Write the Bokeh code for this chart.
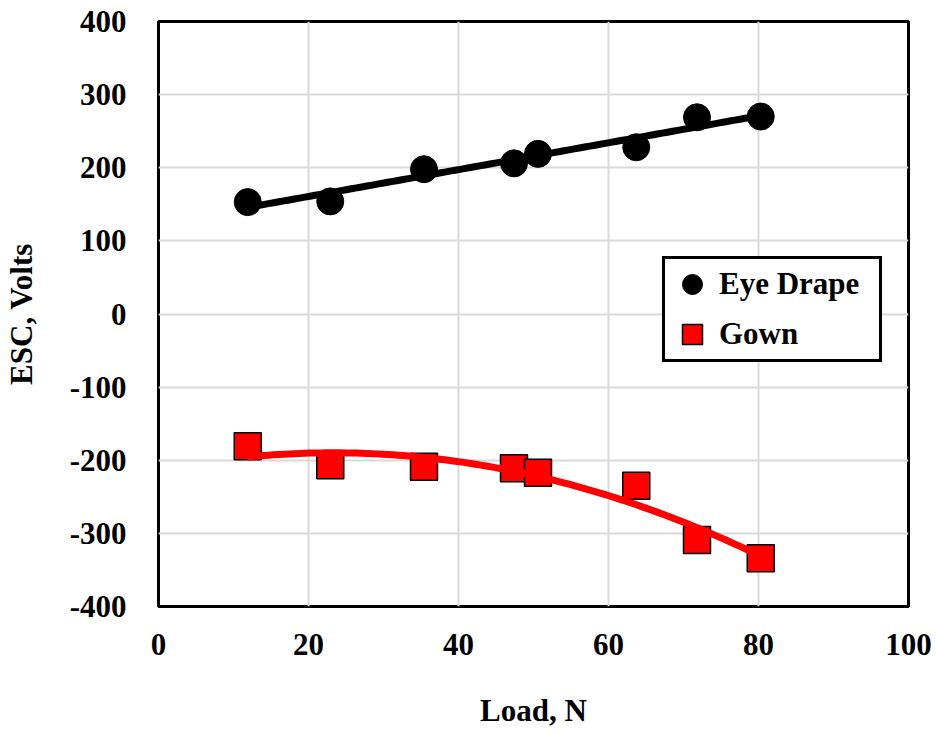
import numpy as np
from bokeh.plotting import figure
from bokeh.models import Range1d, Legend, LegendItem, FixedTicker, PrintfTickFormatter
from bokeh.embed import file_html
from bokeh.resources import INLINE

# Data
load_n = [11.9, 22.9, 35.4, 47.4, 50.6, 63.7, 71.8, 80.3]
eye_drape = [153, 154, 198, 206, 219, 228, 269, 270]
gown = [-181, -207, -209, -211, -217, -235, -309, -334]
x_ticks = [0, 20, 40, 60, 80, 100]
y_ticks = [-400, -300, -200, -100, 0, 100, 200, 300, 400]

FONT = "Liberation Serif"

p = figure(width=936, height=734, output_backend="svg", toolbar_location=None,
           x_range=Range1d(0, 100), y_range=Range1d(-400, 400),
           min_border_left=158, min_border_right=28, min_border_top=21, min_border_bottom=128)
p.background_fill_color = "white"
p.border_fill_color = "white"
p.outline_line_color = "black"
p.outline_line_width = 3
p.outline_line_alpha = 1

p.xgrid.grid_line_color = "#d9d9d9"
p.ygrid.grid_line_color = "#d9d9d9"
p.xgrid.grid_line_width = 2
p.ygrid.grid_line_width = 2
p.xaxis.ticker = FixedTicker(ticks=x_ticks)
p.yaxis.ticker = FixedTicker(ticks=y_ticks)
p.xaxis.formatter = PrintfTickFormatter(format="%d")
p.yaxis.formatter = PrintfTickFormatter(format="%d")

for ax in (p.xaxis, p.yaxis):
    ax.axis_line_color = None
    ax.major_tick_line_color = None
    ax.minor_tick_line_color = None
    ax.major_label_text_font = FONT
    ax.major_label_text_font_style = "bold"
    ax.major_label_text_font_size = "31px"
    ax.major_label_text_color = "black"
    ax.axis_label_text_font = FONT
    ax.axis_label_text_font_style = "bold"
    ax.axis_label_text_font_size = "31px"
    ax.axis_label_text_color = "black"

p.xaxis.axis_label = "Load, N"
p.yaxis.axis_label = "ESC, Volts"
p.xaxis.major_label_standoff = 21
p.xaxis.axis_label_standoff = 35
p.yaxis.major_label_standoff = 26
p.yaxis.axis_label_standoff = 28

r_eye = p.scatter(load_n, eye_drape, marker="circle", size=27, fill_color="black", line_color="black")
r_gown = p.scatter(load_n, gown, marker="square", size=27, fill_color="red", line_color="black", line_width=1.5)

# Trendlines (Excel-style fits to the data)
xs = np.linspace(min(load_n), max(load_n), 100)
c1 = np.polyfit(load_n, eye_drape, 1)
c2 = np.polyfit(load_n, gown, 2)
p.line(xs, np.polyval(c1, xs), line_color="black", line_width=7)
p.line(xs, np.polyval(c2, xs), line_color="red", line_width=7)

legend = Legend(items=[LegendItem(label="Eye Drape", renderers=[r_eye]),
                       LegendItem(label="Gown", renderers=[r_gown])],
                location=(504, 244))
legend.padding = 0
legend.spacing = 0
legend.margin = 0
legend.glyph_width = 54
legend.glyph_height = 50
legend.label_height = 50
legend.label_standoff = 0
legend.label_width = 160
legend.label_text_font = FONT
legend.label_text_font_style = "bold"
legend.label_text_font_size = "31px"
legend.label_text_color = "black"
legend.border_line_color = "black"
legend.border_line_alpha = 1
legend.border_line_width = 3
legend.background_fill_color = "white"
legend.background_fill_alpha = 1
p.add_layout(legend, "center")

open("out.html", "w").write(file_html(p, INLINE))
